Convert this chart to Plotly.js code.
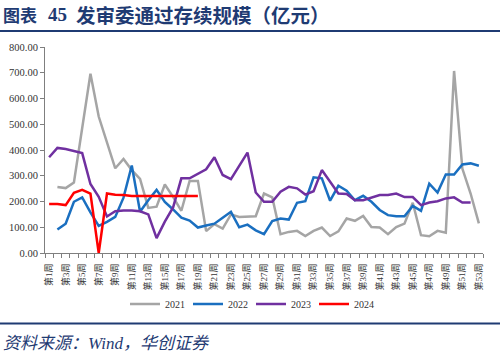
<!DOCTYPE html>
<html>
<head>
<meta charset="utf-8">
<script src="https://cdn.plot.ly/plotly-3.0.1.min.js"></script>
<style>html,body{margin:0;padding:0;background:#fff;}#chart{width:500px;height:356px;}</style>
</head>
<body>
<div id="chart"></div>
<script>
const weeks = [1,2,3,4,5,6,7,8,9,10,11,12,13,14,15,16,17,18,19,20,21,22,23,24,25,26,27,28,29,30,31,32,33,34,35,36,37,38,39,40,41,42,43,44,45,46,47,48,49,50,51,52,53];
const tickWeeks = [1,3,5,7,9,11,13,15,17,19,21,23,25,27,29,31,33,35,37,39,41,43,45,47,49,51,53];
const tickLabels = ["第1周","第3周","第5周","第7周","第9周","第11周","第13周","第15周","第17周","第19周","第21周","第23周","第25周","第27周","第29周","第31周","第33周","第35周","第37周","第39周","第41周","第43周","第45周","第47周","第49周","第51周","第53周"];
const yTickVals = [0,100,200,300,400,500,600,700,800];
const yTickLabels = ["0.00","100.00","200.00","300.00","400.00","500.00","600.00","700.00","800.00"];

const s2021 = [null,256,252,274,490,696,530,433,329,365,322,288,175,180,266,218,164,280,280,85,112,95,150,140,142,143,231,216,73,82,86,66,86,99,66,84,134,125,144,101,99,73,101,114,195,69,65,86,79,707,328,231,115];
const s2022 = [null,91,114,199,216,158,105,121,140,215,340,160,205,245,198,169,137,126,99,107,114,137,160,100,110,88,73,124,134,130,195,201,294,290,203,261,242,205,222,199,167,147,143,143,183,164,269,235,305,305,344,348,339];
const s2023 = [372,408,404,397,388,268,218,142,162,165,165,162,150,58,122,177,290,290,309,325,372,303,287,338,390,235,199,199,238,257,251,227,240,322,277,231,229,205,205,214,225,225,231,217,217,186,196,201,212,216,196,196,null];
const s2024 = [190,190,186,234,245,231,0,231,226,225,221,221,221,221,221,221,221,221,221];

const seriesNames = ["2021","2022","2023","2024"];
const colors = ["#A5A5A5","#1A6FC0","#7030A0","#FF0000"];
const seriesData = [s2021, s2022, s2023, s2024];

const traces = seriesData.map((ys, i) => ({
  type: "scatter", mode: "lines",
  x: weeks.slice(0, ys.length), y: ys,
  name: seriesNames[i],
  line: {color: colors[i], width: 2.5},
  connectgaps: false
}));

const L = 45, R = 17, T = 47, B = 103, W = 500, H = 356;
const pw = W - L - R, ph = H - T - B;
const px = x => (x - L) / pw;
const py = y => (H - B - y) / ph;
const navy = "#1F3B73";

const layout = {
  width: W, height: H,
  margin: {l: L, r: R, t: T, b: B},
  paper_bgcolor: "#fff", plot_bgcolor: "#fff",
  showlegend: true,
  legend: {
    orientation: "h", x: px(251), xanchor: "center", y: py(304), yanchor: "middle",
    font: {family: "Liberation Serif, serif", size: 10, color: "#333"},
    entrywidth: 18, entrywidthmode: "pixels", itemwidth: 30
  },
  xaxis: {
    range: [0.5, 53.5], showgrid: false, zeroline: false,
    showline: true, linecolor: "#7f7f7f", linewidth: 1,
    tickmode: "array", tickvals: tickWeeks, ticktext: tickLabels,
    tickangle: -90, ticks: "", ticklabelstandoff: 6,
    tickfont: {family: "Liberation Serif, Noto Sans CJK SC, serif", size: 9, color: "#333"},
    minor: {ticks: "outside", tick0: 0.5, dtick: 1, ticklen: 4, tickcolor: "#7f7f7f", tickwidth: 1, showgrid: false}
  },
  yaxis: {
    range: [0, 800], showgrid: false, zeroline: false,
    showline: true, linecolor: "#7f7f7f", linewidth: 1,
    tickmode: "array", tickvals: yTickVals, ticktext: yTickLabels,
    ticks: "outside", ticklen: 4, tickcolor: "#7f7f7f",
    tickfont: {family: "Liberation Serif, serif", size: 10.5, color: "#333"}
  },
  shapes: [
    {type: "line", xref: "paper", yref: "paper", x0: px(0), x1: px(500), y0: py(31), y1: py(31), line: {color: navy, width: 2}},
    {type: "line", xref: "paper", yref: "paper", x0: px(0), x1: px(500), y0: py(323.5), y1: py(323.5), line: {color: navy, width: 2}}
  ],
  annotations: [
    {xref: "paper", yref: "paper", x: px(1), y: py(14), xanchor: "left", yanchor: "middle", showarrow: false,
     text: "<b>图表</b>", font: {family: "Noto Sans CJK SC", size: 17, color: navy}},
    {xref: "paper", yref: "paper", x: px(46), y: py(14), xanchor: "left", yanchor: "middle", showarrow: false,
     text: "<b>45</b>", font: {family: "Liberation Serif, serif", size: 19, color: navy}},
    {xref: "paper", yref: "paper", x: px(74), y: py(14), xanchor: "left", yanchor: "middle", showarrow: false,
     text: "<b>发审委通过存续规模（亿元）</b>", font: {family: "Noto Sans CJK SC", size: 19.5, color: navy}},
    {xref: "paper", yref: "paper", x: px(1), y: py(343), xanchor: "left", yanchor: "middle", showarrow: false,
     text: "<i>资料来源：Wind，华创证券</i>", font: {family: "Liberation Serif, Noto Sans CJK SC", size: 17, color: navy}}
  ]
};

Plotly.newPlot("chart", traces, layout, {displayModeBar: false, staticPlot: true});
</script>
</body>
</html>
